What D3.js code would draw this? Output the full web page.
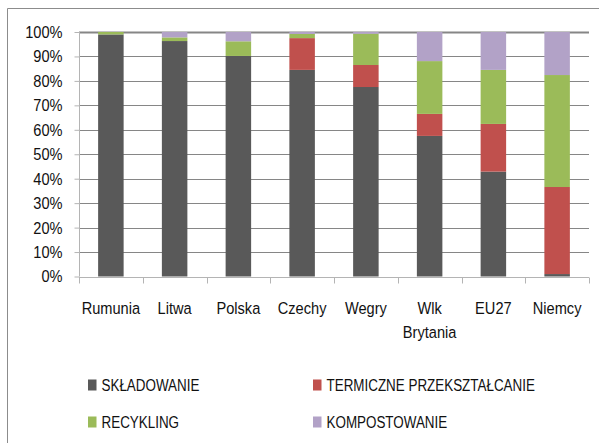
<!DOCTYPE html>
<html>
<head>
<meta charset="utf-8">
<script src="https://cdn.jsdelivr.net/npm/d3@7"></script>
<style>
  body { margin: 0; background: #fff; }
  svg text { font-family: "Liberation Sans", Arial, sans-serif; fill: #111; }
</style>
</head>
<body>
<svg width="599" height="443"></svg>
<script>
// values (percent of municipal waste)
const categories = ["Rumunia", "Litwa", "Polska", "Czechy", "Wegry", "Wlk Brytania", "EU27", "Niemcy"];
const skladowanie = [99, 96.3, 90.2, 84.5, 77.5, 57.5, 42.9, 1];
const termiczne = [0, 0, 0, 13, 9, 9, 19.5, 35.6];
const recykling = [1, 1.5, 6, 1.7, 12.8, 21.6, 22.1, 45.8];
const kompostowanie = [0, 2.2, 3.8, 0.8, 0.7, 11.9, 15.5, 17.6];
const yTicks = [0, 10, 20, 30, 40, 50, 60, 70, 80, 90, 100];

const seriesNames = ["SKŁADOWANIE", "TERMICZNE PRZEKSZTAŁCANIE", "RECYKLING", "KOMPOSTOWANIE"];
const colors = ["#595959", "#c0504d", "#9bbb59", "#b2a2c7"];

const svg = d3.select("svg");
const plotLeft = 79, plotRight = 589, plotTop = 32, plotBottom = 276.5;
// the original font is a narrow one, so squeeze the text horizontally
const squeezeLabels = 0.86, squeezeLegend = 0.79;

// outer chart frame (runs off the right and bottom edges)
svg.append("path")
  .attr("d", "M7.5,460 V8.5 H620")
  .attr("fill", "none")
  .attr("stroke", "#8c8c8c")
  .attr("stroke-width", 1);

const table = categories.map((c, i) => ({
  cat: c,
  s0: skladowanie[i], s1: termiczne[i], s2: recykling[i], s3: kompostowanie[i]
}));
const stack = d3.stack().keys(["s0", "s1", "s2", "s3"])(table);

const x = d3.scaleBand().domain(categories).range([plotLeft, plotRight])
  .paddingInner(0.6).paddingOuter(0.3);
const y = d3.scaleLinear().domain([0, 100]).range([plotBottom, plotTop]);

// gridlines
svg.append("g").selectAll("line")
  .data(yTicks.filter(d => d > 0))
  .join("line")
  .attr("x1", plotLeft).attr("x2", plotRight)
  .attr("y1", d => Math.round(y(d)) + 0.5)
  .attr("y2", d => Math.round(y(d)) + 0.5)
  .attr("stroke", "#868686")
  .attr("stroke-width", d => d === 100 ? 2 : 1);

// bars
svg.append("g").selectAll("g")
  .data(stack)
  .join("g")
  .attr("fill", (d, i) => colors[i])
  .selectAll("rect")
  .data(d => d)
  .join("rect")
  .attr("x", d => x(d.data.cat))
  .attr("width", x.bandwidth())
  .attr("y", d => y(d[1]))
  .attr("height", d => Math.max(0, y(d[0]) - y(d[1])));

// y axis
const yAxis = svg.append("g")
  .attr("transform", `translate(${plotLeft + 0.5},0)`)
  .call(d3.axisLeft(y).tickValues(yTicks).tickFormat(d => d + "%").tickSize(5).tickPadding(12));
yAxis.select(".domain").attr("stroke", "#b4b4b4").attr("d", `M0,${plotTop}V${plotBottom}`);
yAxis.selectAll(".tick line").attr("stroke", "#b4b4b4");
yAxis.selectAll("text")
  .style("font-size", "17px")
  .attr("fill", "#111")
  .attr("x", 0)
  .attr("transform", `translate(-17,0) scale(${squeezeLabels},1)`);

// x axis: ticks at the category boundaries
const xg = svg.append("g").attr("transform", `translate(0,${Math.round(plotBottom) + 0.5})`);
xg.append("line").attr("x1", plotLeft).attr("x2", plotRight).attr("stroke", "#b4b4b4");
const bounds = categories.map((c, i) => plotLeft + i * x.step());
bounds.push(plotRight);
xg.selectAll("line.tk")
  .data(bounds)
  .join("line")
  .attr("class", "tk")
  .attr("x1", d => Math.round(d) + 0.5).attr("x2", d => Math.round(d) + 0.5)
  .attr("y1", 0).attr("y2", 6)
  .attr("stroke", "#b4b4b4");

svg.append("g").selectAll("text")
  .data(categories)
  .join("text")
  .attr("text-anchor", "middle")
  .style("font-size", "17px")
  .attr("transform", d => `translate(${x(d) + x.bandwidth() / 2},314) scale(${squeezeLabels},1)`)
  .each(function (d) {
    const words = d === "Wlk Brytania" ? ["Wlk", "Brytania"] : [d];
    d3.select(this).selectAll("tspan")
      .data(words)
      .join("tspan")
      .attr("x", 0)
      .attr("dy", (w, i) => i === 0 ? 0 : 24)
      .text(w => w);
  });

// legend
const legendPos = [[88, 385], [313, 385], [88, 422], [313, 422]];
const legend = svg.append("g").selectAll("g")
  .data(seriesNames)
  .join("g")
  .attr("transform", (d, i) => `translate(${legendPos[i][0]},${legendPos[i][1]})`);
legend.append("rect")
  .attr("x", 0).attr("y", -5.5)
  .attr("width", 8.5).attr("height", 11)
  .attr("fill", (d, i) => colors[i]);
legend.append("text")
  .attr("transform", `translate(13.5,6) scale(${squeezeLegend},1)`)
  .style("font-size", "17px")
  .text(d => d);
</script>
</body>
</html>
